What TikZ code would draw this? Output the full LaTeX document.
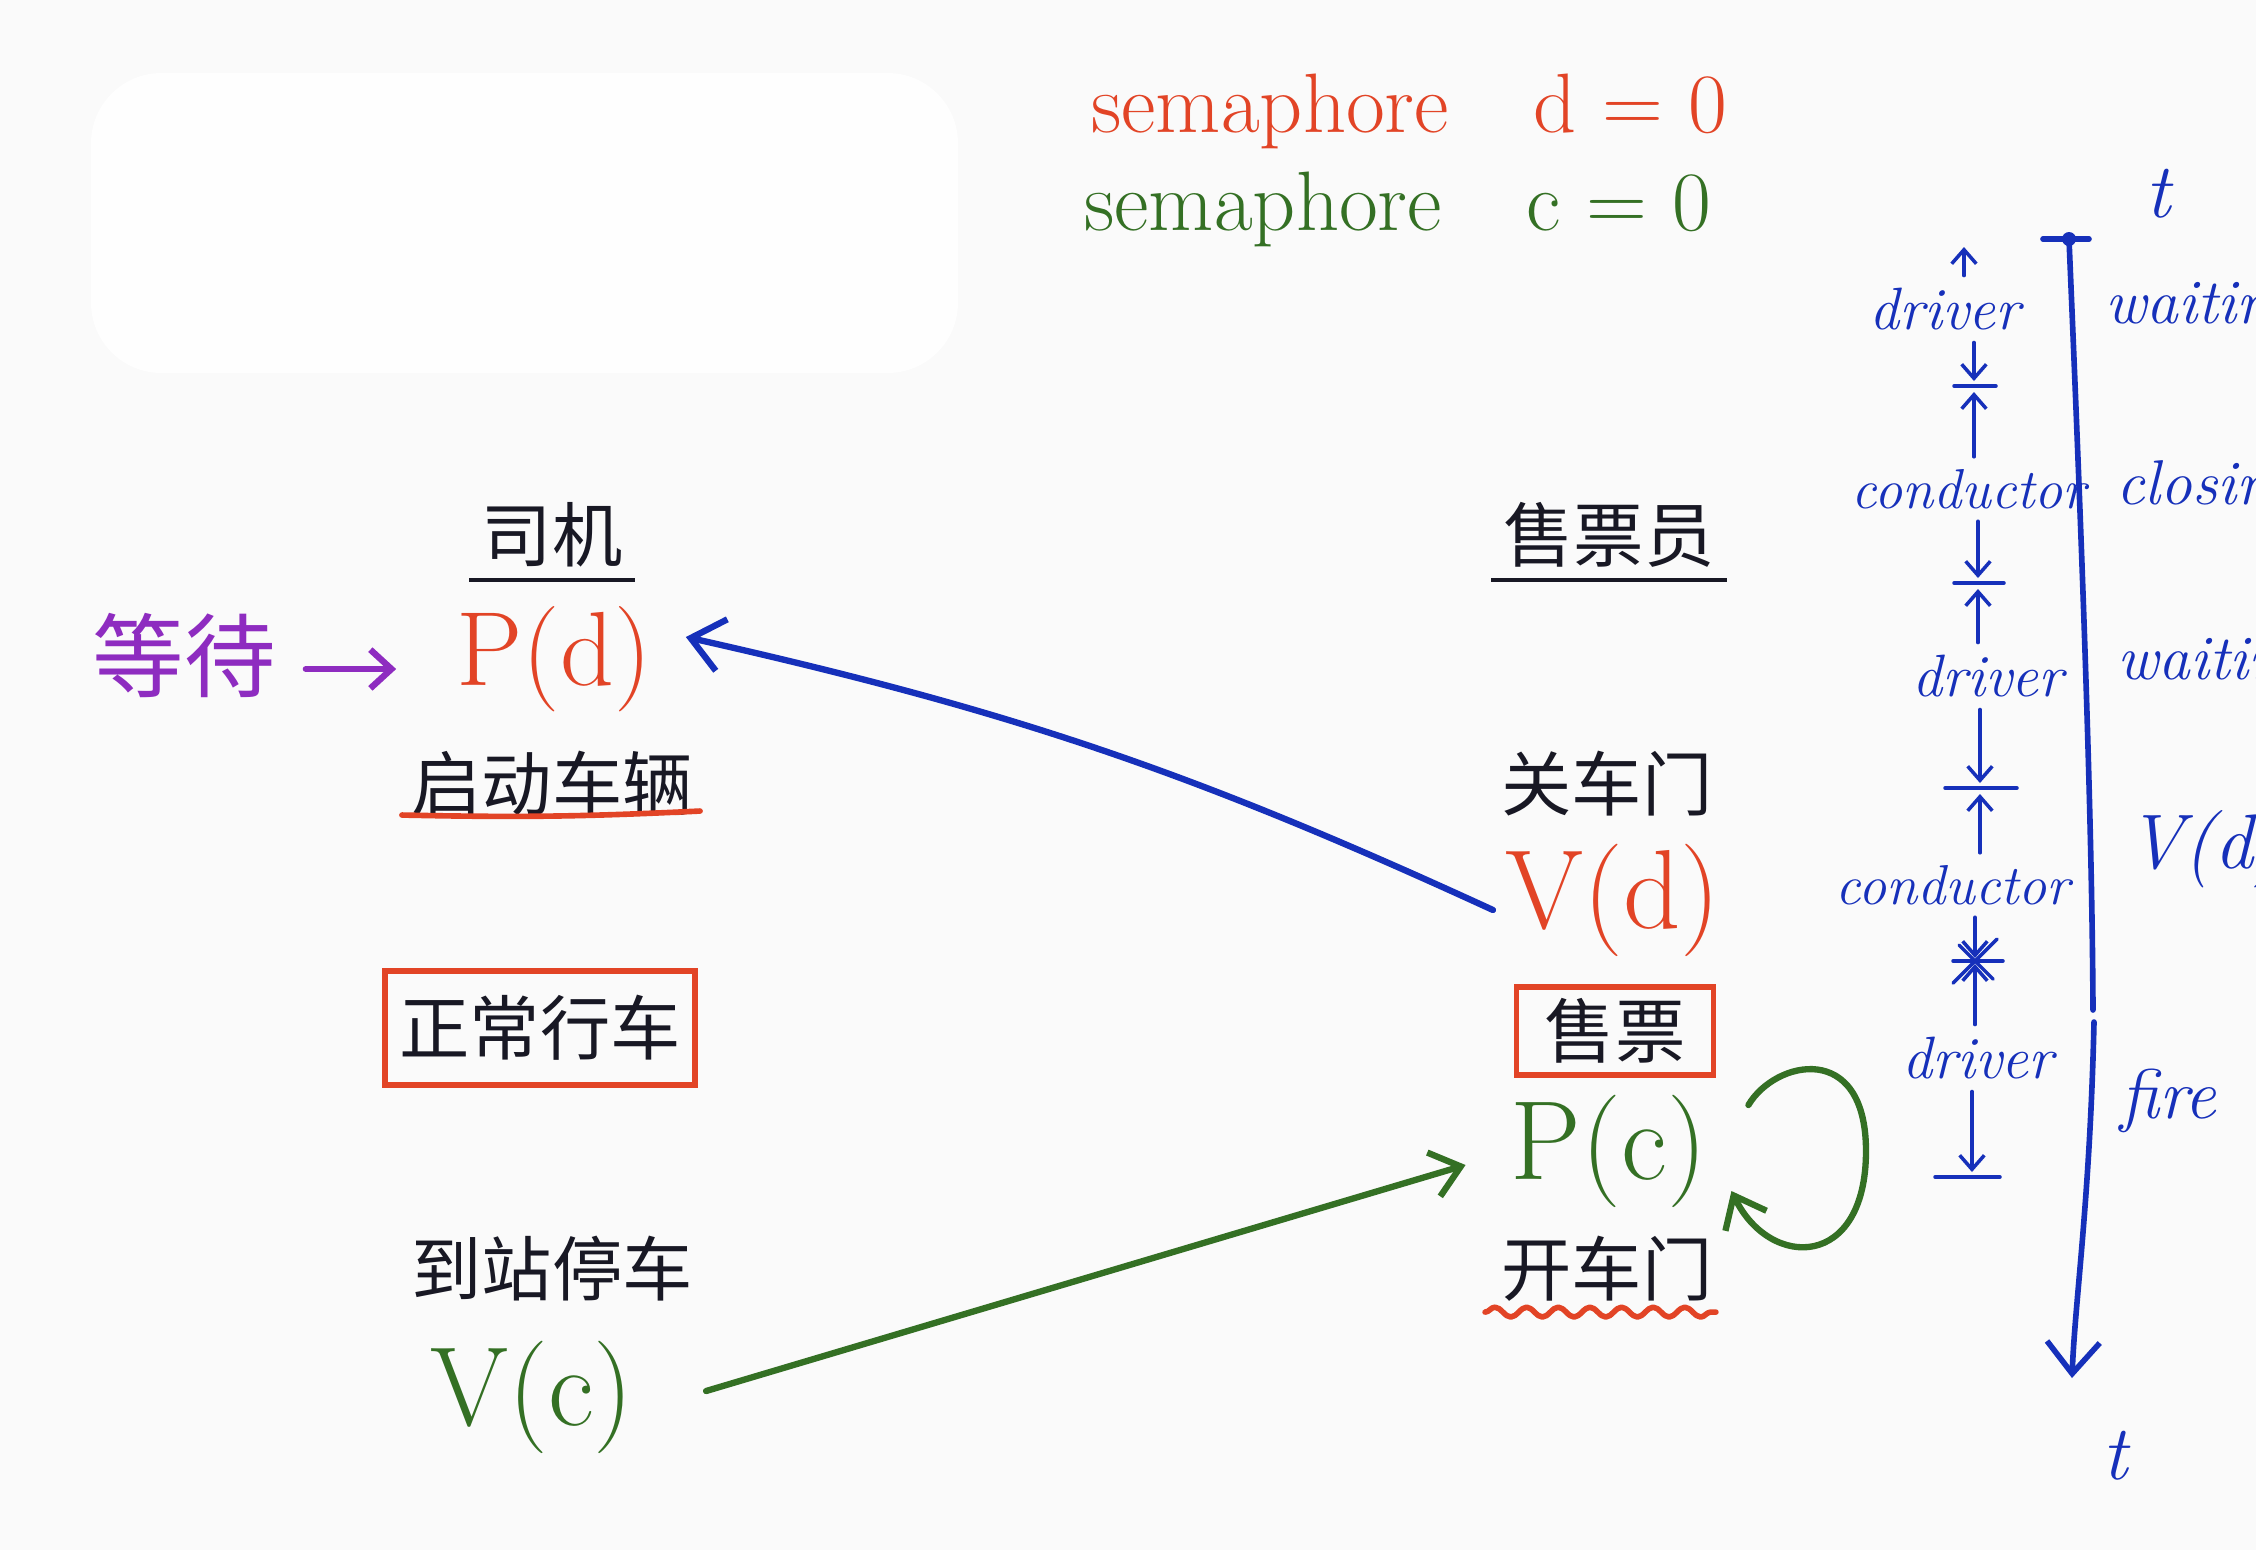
\documentclass[tikz,border=0pt]{standalone}
\usepackage{fontspec}
\newfontfamily\cjk{Noto Sans CJK SC}
\usetikzlibrary{arrows.meta,decorations.pathmorphing}

\definecolor{paper}{RGB}{250,250,250}
\definecolor{sheet}{RGB}{254,254,254}
\definecolor{penred}{RGB}{226,68,38}
\definecolor{pengreen}{RGB}{52,112,36}
\definecolor{penblue}{RGB}{22,48,186}
\definecolor{penpurple}{RGB}{142,44,192}
\definecolor{inkblack}{RGB}{24,24,36}

\newcommand{\penfont}[1]{\fontsize{#1pt}{#1pt}\selectfont}

\tikzset{
  ink/.style={text=inkblack, font=\cjk\penfont{20}},
  redtext/.style={text=penred, font=\penfont{32}},
  greentext/.style={text=pengreen, font=\penfont{32}},
  bluetext/.style={text=penblue, font=\itshape\penfont{17}},
  redpen/.style={draw=penred, line width=1.6pt, line cap=round, line join=round},
  ticketbox/.style={ink, draw=penred, line width=1.6pt},
  bluepen/.style={draw=penblue, line width=1.8pt, line cap=round, -{Straight Barb[length=9pt,width=15pt]}},
  greenpen/.style={draw=pengreen, line width=1.8pt, line cap=round, -{Straight Barb[length=8pt,width=13pt]}},
  purplepen/.style={draw=penpurple, line width=1.8pt, line cap=round, -{Straight Barb[length=6pt,width=11pt]}},
  timebar/.style={draw=penblue, line width=1pt, line cap=round},
  timearrow/.style={timebar, -{Straight Barb[length=4pt,width=7pt]}},
}

\begin{document}
\begin{tikzpicture}[x=0.01cm, y=-0.01cm]

  % Page and pasted sheet
  \useasboundingbox (0,0) rectangle (2256,1550);
  \clip (0,0) rectangle (2256,1550);
  \fill[paper] (0,0) rectangle (2256,1550);
  \fill[sheet, rounded corners=20] (91,73) rectangle (958,373);

  % Semaphores
  \node[text=penred, font=\penfont{24}, anchor=base west] (semd) at (1079,132) {semaphore\quad d = 0};
  \node[text=pengreen, font=\penfont{24}, anchor=base west] (semc) at (1072,230) {semaphore\quad c = 0};

  % Driver column
  \node[ink] (driver) at (552,535) {司机};
  \draw[inkblack, line width=1.2pt] (driver.south west) -- (driver.south east);
  \node[redtext, font=\penfont{30}] (pd) at (554,659) {P(d)};
  \node[ink] (start) at (552,784) {启动车辆};
  \draw[redpen] ([shift={(3,-14)}]start.south west) to[bend right=2] ([shift={(-5,-18)}]start.south east);
  \node[ticketbox, inner xsep=4pt, inner ysep=7pt] (run) at (540,1028) {正常行车};
  \node[ink] (stop) at (552,1269) {到站停车};
  \node[greentext] (vc) at (532,1397) {V(c)};

  % Conductor column
  \node[ink] (seller) at (1609,535) {售票员};
  \draw[inkblack, line width=1.2pt] (seller.south west) -- (seller.south east);
  \node[ink] (close) at (1607,784) {关车门};
  \node[redtext] (vd) at (1613,900) {V(d)};
  \node[ticketbox, inner xsep=8pt] (sell) at (1615,1031) {售票};
  \node[greentext] (pc) at (1609,1151) {P(c)};
  \node[ink] (open) at (1607,1269) {开车门};
  \draw[redpen, decorate, decoration={snake, amplitude=1.4pt, segment length=9pt}]
    ([shift={(-4,-2)}]open.south west) -- ([shift={(-9,-2)}]open.south east);

  % Waiting note
  \node[text=penpurple, font=\cjk\penfont{26}] (wait) at (184,655) {等待};
  \draw[purplepen] ([shift={(18,14)}]wait.east) -- ([shift={(-48,10)}]pd.west);

  % Signals between the two
  \draw[bluepen] ([shift={(0,10)}]vd.west) to[bend right=6] ([shift={(22,-22)}]pd.east);
  \draw[greenpen] ([shift={(60,-6)}]vc.east) -- ([shift={(-33,14)}]pc.west);
  \draw[greenpen] ([shift={(29,-46)}]pc.east) .. controls (1775,1060) and (1866,1040) .. (1866,1151)
    .. controls (1866,1270) and (1770,1270) .. ([shift={(12,40)}]pc.east);

  % Time axis
  \node[bluetext, font=\itshape\penfont{22}] (ttop) at (2158,194) {t};
  \node[bluetext, font=\itshape\penfont{22}] (tbot) at (2115,1456) {t};
  \coordinate (axtop) at (2069,239);
  \coordinate (axgap) at (2093,1010);
  \coordinate (axend) at (2072,1378);
  \draw[timebar, line width=1.6pt] ([shift={(-26,0)}]axtop) -- ([shift={(20,0)}]axtop);
  \fill[penblue] (axtop) circle (7);
  \draw[timebar, line width=1.6pt] (axtop) .. controls (2080,500) and (2092,800) .. (axgap);
  \draw[bluepen, line width=1.6pt] ([shift={(1,12)}]axgap) .. controls (2090,1200) and (2075,1300) .. (axend);

  % States along the axis (cut by the page edge, as drawn)
  \node[bluetext, font=\itshape\penfont{18}, anchor=west] (st1) at (2093,309) {waiting};
  \node[bluetext, font=\itshape\penfont{18}, anchor=west] (st2) at (2104,489) {closing};
  \node[bluetext, font=\itshape\penfont{18}, anchor=west] (st3) at (2105,665) {waiting};
  \node[bluetext, font=\itshape\penfont{22}, anchor=west] (st4) at (2115,849) {V(d)};
  \node[bluetext, font=\itshape\penfont{20}, anchor=west] (st5) at (2108,1101) {fire};

  % Who runs when
  \node[bluetext] (drv1) at (1945,309) {driver};
  \node[bluetext, font=\itshape\penfont{16}] (con1) at (1969,489) {conductor};
  \node[bluetext] (drv2) at (1988,676) {driver};
  \node[bluetext, font=\itshape\penfont{16}] (con2) at (1953,885) {conductor};
  \node[bluetext] (drv3) at (1978,1058) {driver};

  \coordinate (up0) at (1964,247);
  \coordinate (bar1) at (1974,386);
  \coordinate (bar2) at (1978,583);
  \coordinate (bar3) at (1980,788);
  \coordinate (star) at (1975,961);
  \coordinate (bar4) at (1972,1177);

  \draw[timearrow] (drv1.north -| up0) -- (up0);
  \draw[timearrow] (drv1.south -| bar1) -- ([shift={(0,-5)}]bar1);
  \draw[timebar] ([shift={(-20,0)}]bar1) -- ([shift={(22,0)}]bar1);
  \draw[timearrow] (con1.north -| bar1) -- ([shift={(0,6)}]bar1);

  \draw[timearrow] (con1.south -| bar2) -- ([shift={(0,-5)}]bar2);
  \draw[timebar] ([shift={(-24,0)}]bar2) -- ([shift={(26,0)}]bar2);
  \draw[timearrow] (drv2.north -| bar2) -- ([shift={(0,6)}]bar2);

  \draw[timearrow] (drv2.south -| bar3) -- ([shift={(0,-5)}]bar3);
  \draw[timebar] ([shift={(-35,0)}]bar3) -- ([shift={(37,0)}]bar3);
  \draw[timearrow] (con2.north -| bar3) -- ([shift={(0,6)}]bar3);

  \draw[timearrow] (con2.south -| star) -- ([shift={(0,-3)}]star);
  \draw[timearrow] (drv3.north -| star) -- ([shift={(0,3)}]star);
  \draw[timebar] ([shift={(-22,0)}]star) -- ([shift={(28,0)}]star);
  \draw[timebar] ([shift={(-22,22)}]star) -- ([shift={(22,-22)}]star);
  \draw[timebar] ([shift={(-16,-16)}]star) -- ([shift={(18,18)}]star);

  \draw[timearrow] (drv3.south -| bar4) -- ([shift={(0,-5)}]bar4);
  \draw[timebar] ([shift={(-37,0)}]bar4) -- ([shift={(28,0)}]bar4);

\end{tikzpicture}
\end{document}
